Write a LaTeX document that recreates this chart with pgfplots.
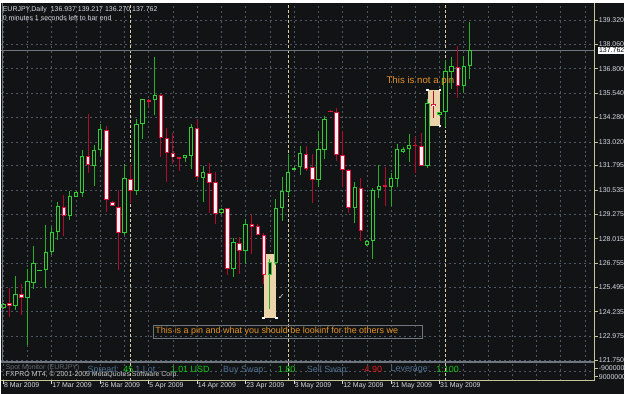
\documentclass[border=0pt]{standalone}
\usepackage{pgfplots}
\pgfplotsset{compat=1.18}
\usepackage{pgfplotstable}
\usepackage{fontspec}
\setmainfont{Liberation Sans}
\newfontfamily\symfont{DejaVu Sans}
\definecolor{bg}{RGB}{17,19,21}
\definecolor{gridc}{RGB}{78,88,100}
\definecolor{axisc}{RGB}{200,196,150}
\definecolor{sepc}{RGB}{215,205,160}
\definecolor{bullc}{RGB}{50,205,50}
\definecolor{bullw}{RGB}{40,175,40}
\definecolor{bearc}{RGB}{220,20,60}
\definecolor{bearw}{RGB}{175,12,45}
\definecolor{bearf}{RGB}{255,242,245}
\definecolor{txtc}{RGB}{215,218,225}
\definecolor{bidc}{RGB}{110,118,128}
\definecolor{annc}{RGB}{228,148,40}
\definecolor{boxc}{RGB}{236,212,170}
\definecolor{labc}{RGB}{80,112,145}
\definecolor{valg}{RGB}{20,200,20}
\definecolor{valr}{RGB}{225,25,25}
\newcommand\fa{\fontsize{7bp}{8bp}\selectfont}
\newcommand\fb{\fontsize{9bp}{10bp}\selectfont}

\pgfplotstableread{
i o h l c
0 124.43 124.71 124.38 124.62
2 124.52 126.06 124.31 125.17
4 124.95 126.46 122.53 125.81
5 125.73 127.66 125.43 126.75
6 126.37 126.42 126.34 126.40
7 126.40 128.72 125.48 127.35
8 127.32 128.60 127.15 128.38
9 128.38 129.89 127.97 129.69
11 129.21 130.50 128.98 130.24
12 130.19 130.46 130.15 130.41
13 130.36 132.59 130.15 132.30
15 131.75 132.87 130.75 132.61
16 132.59 133.96 132.30 133.70
20 128.30 131.87 128.21 131.13
22 130.50 134.22 130.27 133.93
23 133.93 135.25 133.15 135.21
25 135.18 137.41 134.39 135.44
30 132.17 132.35 131.99 132.33
31 132.30 133.96 131.61 133.79
33 131.13 131.78 129.89 131.44
36 129.34 129.58 129.30 129.55
38 126.46 128.05 126.03 127.83
40 127.40 129.03 126.71 128.77
44 126.15 126.94 124.40 126.80
45 126.77 130.06 126.66 129.58
46 129.58 131.22 128.95 130.50
47 130.44 132.38 130.20 131.47
48 131.58 131.75 131.54 131.68
49 131.70 132.81 131.30 132.42
52 131.06 133.59 130.67 132.67
53 132.61 134.36 132.12 134.22
58 129.58 130.92 128.83 130.67
60 127.69 127.93 127.66 127.87
61 127.88 130.61 126.94 130.55
62 130.55 131.83 130.11 130.75
64 130.70 131.39 129.72 131.13
65 131.09 132.93 130.67 132.64
66 132.47 132.73 132.43 132.67
67 132.64 133.45 132.00 132.87
70 131.75 135.25 131.66 135.01
72 134.41 134.58 134.37 134.57
73 134.57 137.24 133.81 136.68
74 136.64 137.41 135.77 136.94
76 135.90 137.45 135.52 136.94
77 136.937 139.217 136.270 137.762
}\bull

\pgfplotstableread{
i o h l c
1 124.67 125.48 123.97 124.52
3 125.15 125.68 124.09 124.95
10 129.67 130.29 128.14 129.21
14 132.30 134.48 131.40 131.81
17 133.64 133.84 129.38 130.03
18 129.93 129.94 129.69 129.72
19 129.67 130.53 126.40 128.31
21 131.09 131.87 129.84 130.50
24 135.16 135.25 134.87 135.10
26 135.44 135.47 132.21 133.24
27 133.24 133.76 130.96 132.43
28 132.43 133.50 131.87 132.21
29 132.21 132.26 131.53 132.14
32 133.76 134.22 131.06 131.22
34 131.40 131.95 129.34 130.87
35 130.92 131.44 128.77 129.29
37 129.58 129.61 126.15 126.43
39 127.78 128.09 126.20 127.40
41 128.76 129.26 127.23 128.60
42 128.66 128.76 128.18 128.21
43 128.21 128.30 125.68 126.15
50 132.38 132.78 131.53 131.64
51 131.70 132.38 129.86 131.06
54 134.63 134.67 134.56 134.57
55 134.57 134.79 132.04 132.35
56 132.35 133.59 130.67 131.58
57 131.58 131.61 129.34 129.58
59 130.63 131.13 127.92 128.40
63 130.77 131.70 129.69 130.70
68 132.87 133.28 131.40 132.79
69 132.81 133.50 131.75 131.78
71 134.99 135.65 134.27 134.87
75 136.90 137.97 135.27 135.90
}\bear

\pgfplotsset{
  candle/.style 2 args={draw=none, mark=none, forget plot,
    error bars/y dir=minus, error bars/y explicit, error bars/error mark=none,
    error bars/error bar style={draw=#1, line width=#2, solid, line cap=butt}},
}

\begin{document}
\begin{tikzpicture}[x=1bp,y=1bp]
\fill[bg] (0,0) rectangle (625,392);

% main price window
\begin{axis}[
  at={(0bp,32bp)}, anchor=south west,
  scale only axis, width=596bp, height=360bp,
  xmin=-0.444, xmax=97.61, ymin=121.649, ymax=140.196,
  axis line style={draw=none},
  xtick={0,4,...,96}, xticklabels={}, xtick style={draw=none},
  ytick={121.75,122.975,124.235,125.495,126.755,128.015,129.275,130.535,131.795,133.02,134.28,135.54,136.8,138.06,139.32},
  yticklabels={121.750,122.975,124.235,125.495,126.755,128.015,129.275,130.535,131.795,133.020,134.280,135.540,136.800,138.060,139.320},
  ytick pos=right, yticklabel pos=right,
  ytick style={draw=axisc, line width=0.6bp},
  tick align=outside, major tick length=3bp,
  yticklabel style={font=\fa, text=txtc, anchor=west, inner sep=0pt, xshift=1bp},
  grid=major, grid style={gridc, dash pattern=on 2bp off 3bp, line width=0.6bp},
]
% period separators
\foreach \s in {21,47,73}{
  \edef\tmp{\noexpand\draw[sepc, dash pattern=on 3bp off 2bp, line width=0.7bp] (axis cs:\s,121.649) -- (axis cs:\s,140.196);}\tmp
}
% bid line
\draw[bidc, line width=0.8bp] (axis cs:-0.444,137.762) -- (axis cs:97.61,137.762);
% highlight boxes
\fill[boxc] (axis cs:42.99,127.23) rectangle (axis cs:45.08,123.92);
\fill[boxc] (axis cs:70.02,135.70) rectangle (axis cs:72.06,133.84);

% wicks
\addplot[candle={bullw}{1bp}] table[x=i, y=h, y error minus expr={\thisrow{h}-\thisrow{l}}] {\bull};
\addplot[candle={bearw}{1bp}] table[x=i, y=h, y error minus expr={\thisrow{h}-\thisrow{l}}] {\bear};
% bodies (outline)
\addplot[candle={bullc}{4.4bp}] table[x=i, y expr={max(\thisrow{o},\thisrow{c})}, y error minus expr={max(abs(\thisrow{c}-\thisrow{o}),0.055)}] {\bull};
\addplot[candle={bearc}{4.4bp}] table[x=i, y expr={max(\thisrow{o},\thisrow{c})}, y error minus expr={max(abs(\thisrow{c}-\thisrow{o}),0.055)}] {\bear};
% bodies (inside)
\addplot[candle={bg}{2.4bp}] table[x=i, y expr={max(\thisrow{o},\thisrow{c})-0.0515}, y error minus expr={max(abs(\thisrow{c}-\thisrow{o})-0.103,0)}] {\bull};
\addplot[candle={bearf}{2.4bp}] table[x=i, y expr={max(\thisrow{o},\thisrow{c})-0.0515}, y error minus expr={max(abs(\thisrow{c}-\thisrow{o})-0.103,0)}] {\bear};

% handles
\foreach \p in {{42.99,123.92},{45.08,123.92},{70.02,135.70},{72.06,135.70},{72.06,133.84}}{
  \edef\tmp{\noexpand\node[fill=white, minimum size=2.6bp, inner sep=0pt] at (axis cs:\p) {};}\tmp
}
\end{axis}

% indicator sub-window
\begin{axis}[
  at={(0bp,13bp)}, anchor=south west,
  scale only axis, width=596bp, height=18bp,
  xmin=-0.444, xmax=97.61, ymin=0, ymax=1,
  axis line style={draw=none},
  xtick={0,8,...,72},
  xticklabels={8 Mar 2009,17 Mar 2009,26 Mar 2009,5 Apr 2009,14 Apr 2009,23 Apr 2009,3 May 2009,12 May 2009,21 May 2009,31 May 2009},
  minor xtick={4,12,20,28,36,44,52,60,68,76,80,84,88,92,96},
  xmajorgrids, xminorgrids,
  grid style={gridc, dash pattern=on 2bp off 3bp, line width=0.6bp},
  minor grid style={gridc, dash pattern=on 2bp off 3bp, line width=0.6bp},
  xtick pos=bottom, tick align=outside, major tick length=3bp, minor tick length=0pt,
  xtick style={draw=txtc, line width=0.6bp},
  xticklabel style={font=\fa, text=txtc, anchor=north west, inner sep=0pt, xshift=0.5bp, yshift=1bp, overlay},
  ytick={0.222,0.722}, yticklabels={9000000,-9000000},
  ytick pos=right, yticklabel pos=right,
  ytick style={draw=axisc, line width=0.6bp},
  yticklabel style={font=\fa, text=txtc, anchor=west, inner sep=0pt, xshift=1bp, overlay},
]
\draw[gridc, dash pattern=on 2bp off 3bp, line width=0.6bp] (axis cs:-0.444,0.5) -- (axis cs:97.61,0.5);
\foreach \s in {21,47,73}{
  \edef\tmp{\noexpand\draw[sepc, dash pattern=on 3bp off 2bp, line width=0.7bp] (axis cs:\s,0) -- (axis cs:\s,1);}\tmp
}
\end{axis}

% frame lines
\draw[bidc, line width=0.8bp] (1.5,32) -- (1.5,392);
\draw[bidc, line width=0.8bp] (0,32.5) -- (596,32.5);
\draw[bidc, line width=0.8bp] (0,31) -- (596,31);
\draw[axisc, line width=0.8bp] (0,13) -- (596,13);
\draw[axisc, line width=0.8bp] (596,13) -- (596,392);

% header
\node[anchor=west, inner sep=0pt, text=txtc, font=\fa] at (2,385.3) {EURJPY,Daily\ \ 136.937 139.217 136.270 137.762};
\node[anchor=west, inner sep=0pt, text=txtc, font=\fa] at (2,377) {0 minutes 1 seconds left to bar end};
% bid label
\node[anchor=west, fill=white, text=black, inner sep=0.7bp, font=\fa] at (599.5,344.5) {137.762};

% annotations
\draw[bidc, line width=0.7bp] (153,69) rectangle (423,56);
\node[anchor=west, inner sep=0pt, text=annc, font=\fb] at (155,62.5) {This is a pin and what you should be lookinf for the others we};
\node[anchor=west, inner sep=0pt, text=annc, font=\fontsize{9.7bp}{11bp}\selectfont] at (387,314) {This is not a pin};
\node[inner sep=0pt, text=txtc, font=\symfont\fontsize{8bp}{9bp}\selectfont] at (281.5,97) {✓};

% indicator texts
\node[anchor=west, inner sep=0pt, text={rgb,255:red,100;green,106;blue,114}, font=\fa] at (5,26) {Spot Monitor (EURJPY)};
\node[anchor=west, inner sep=0pt, text={rgb,255:red,205;green,205;blue,205}, font=\fa] at (5,19.5) {FXPRO MT4, © 2001-2009 MetaQuotes Software Corp.};
\node[anchor=west, inner sep=0pt, text=labc, font=\fb] at (87,24) {Spread:};
\node[anchor=west, inner sep=0pt, text=valg, font=\fb] at (123,24) {45};
\node[anchor=west, inner sep=0pt, text=labc, font=\fb] at (135,24) {1 Lot :};
\node[anchor=west, inner sep=0pt, text=valg, font=\fb] at (170.5,24) {1.01 USD};
\node[anchor=west, inner sep=0pt, text=labc, font=\fb] at (223,24) {Buy Swap:};
\node[anchor=west, inner sep=0pt, text=valg, font=\fb] at (278,24) {1.80};
\node[anchor=west, inner sep=0pt, text=labc, font=\fb] at (307,24) {Sell Swap:};
\node[anchor=west, inner sep=0pt, text=valr, font=\fb] at (362,24) {-4.90};
\node[anchor=west, inner sep=0pt, text=labc, font=\fb] at (391,24) {Leverage:};
\node[anchor=west, inner sep=0pt, text=valg, font=\fb] at (437,24) {1:100};
\end{tikzpicture}
\end{document}
